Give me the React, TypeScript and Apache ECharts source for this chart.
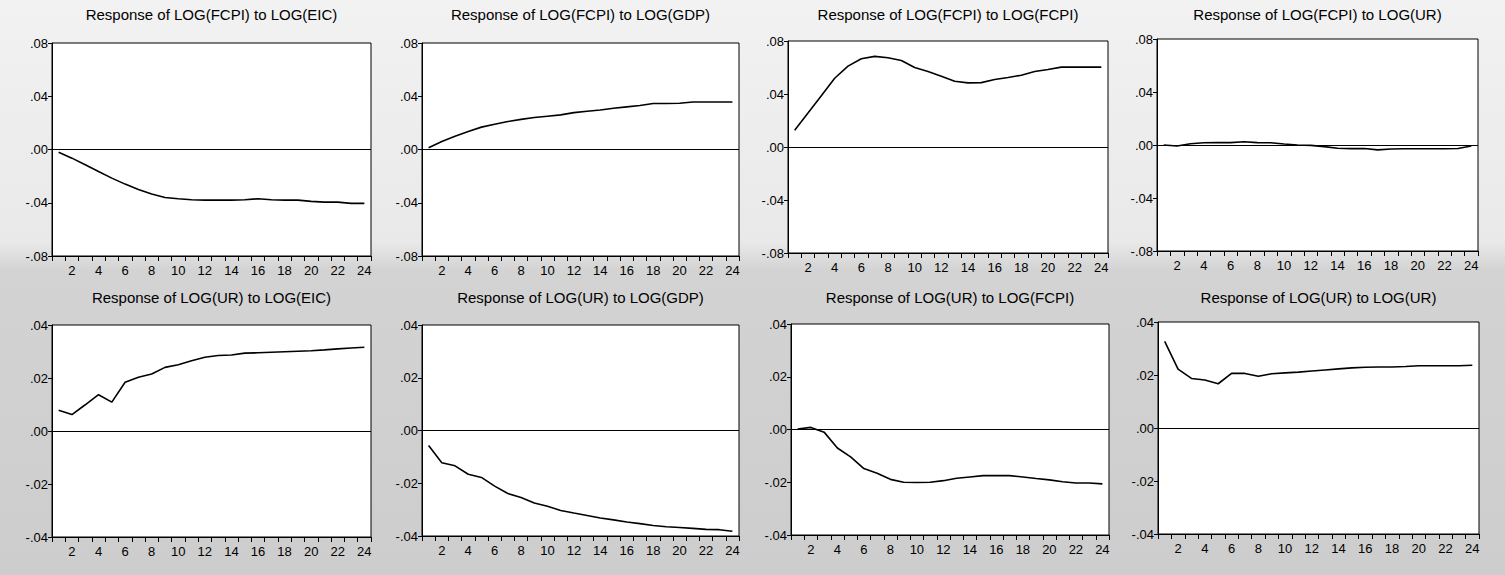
import React, { useEffect, useRef } from "react";
import * as echarts from "echarts";

const periods = ["1","2","3","4","5","6","7","8","9","10","11","12","13","14","15","16","17","18","19","20","21","22","23","24"];

const titles = [
  "Response of LOG(FCPI) to LOG(EIC)",
  "Response of LOG(FCPI) to LOG(GDP)",
  "Response of LOG(FCPI) to LOG(FCPI)",
  "Response of LOG(FCPI) to LOG(UR)",
  "Response of LOG(UR) to LOG(EIC)",
  "Response of LOG(UR) to LOG(GDP)",
  "Response of LOG(UR) to LOG(FCPI)",
  "Response of LOG(UR) to LOG(UR)",
];

const fcpiToEic = [-0.002, -0.0065, -0.0115, -0.0165, -0.0215, -0.026, -0.03, -0.0335, -0.036, -0.037, -0.0378, -0.038, -0.038, -0.038, -0.0378, -0.037, -0.0378, -0.038, -0.038, -0.039, -0.0395, -0.0395, -0.0405, -0.0405];
const fcpiToGdp = [0.0013, 0.006, 0.01, 0.0136, 0.0168, 0.019, 0.021, 0.0226, 0.024, 0.025, 0.026, 0.0277, 0.0287, 0.0297, 0.031, 0.032, 0.033, 0.0345, 0.0345, 0.0347, 0.0357, 0.0357, 0.0357, 0.0357];
const fcpiToFcpi = [0.0127, 0.0256, 0.0387, 0.0519, 0.061, 0.0666, 0.0684, 0.0673, 0.0653, 0.06, 0.057, 0.0534, 0.0496, 0.0484, 0.0486, 0.0509, 0.0524, 0.0542, 0.057, 0.0585, 0.0603, 0.0603, 0.0603, 0.0603];
const fcpiToUr = [0, -0.0008, 0.001, 0.0017, 0.0018, 0.0018, 0.0025, 0.0018, 0.0017, 0.0008, 0, -0.0003, -0.0012, -0.0025, -0.0027, -0.0027, -0.0037, -0.003, -0.0028, -0.0028, -0.0028, -0.0028, -0.0026, -0.0008];
const urToEic = [0.0078, 0.0062, 0.0099, 0.0137, 0.0109, 0.0184, 0.0203, 0.0215, 0.024, 0.025, 0.0265, 0.0278, 0.0285, 0.0287, 0.0294, 0.0295, 0.0297, 0.0299, 0.0301, 0.0303, 0.0306, 0.031, 0.0313, 0.0316];
const urToGdp = [-0.0057, -0.0122, -0.0134, -0.0166, -0.0178, -0.0211, -0.0239, -0.0254, -0.0275, -0.0287, -0.0303, -0.0313, -0.0322, -0.0332, -0.0339, -0.0347, -0.0353, -0.036, -0.0365, -0.0368, -0.0371, -0.0375, -0.0376, -0.0382];
const urToFcpi = [0.0002, 0.0008, -0.001, -0.007, -0.0104, -0.0148, -0.0166, -0.0189, -0.02, -0.0201, -0.02, -0.0194, -0.0185, -0.018, -0.0175, -0.0175, -0.0175, -0.018, -0.0186, -0.0191, -0.0198, -0.0203, -0.0203, -0.0206];
const urToUr = [0.0327, 0.0222, 0.0187, 0.0181, 0.0167, 0.0206, 0.0206, 0.0195, 0.0205, 0.0208, 0.0211, 0.0215, 0.0219, 0.0223, 0.0227, 0.0229, 0.023, 0.023, 0.0232, 0.0235, 0.0235, 0.0235, 0.0235, 0.0237];

const seriesData = [fcpiToEic, fcpiToGdp, fcpiToFcpi, fcpiToUr, urToEic, urToGdp, urToFcpi, urToUr];

// y-axis scales: [min, max, interval]
const topRowScale = [-0.08, 0.08, 0.04];
const bottomRowScale = [-0.04, 0.04, 0.02];

// layout (positions only)
const boxes = [
  { left: 52, top: 43, width: 319, height: 213 },
  { left: 422, top: 43, width: 317, height: 213 },
  { left: 788, top: 41, width: 320, height: 212 },
  { left: 1157, top: 39, width: 321, height: 212 },
  { left: 52, top: 325, width: 319, height: 212 },
  { left: 422, top: 325, width: 317, height: 211 },
  { left: 791, top: 324, width: 318, height: 211 },
  { left: 1158, top: 322, width: 321, height: 212 },
];

const FONT = "'Liberation Sans', Arial, Helvetica, sans-serif";

function fmt(v: number): string {
  const s = v.toFixed(2);
  return s.replace("0.", ".");
}

export default function App() {
  const ref = useRef<HTMLDivElement>(null);
  useEffect(() => {
    if (!ref.current) return;
    const chart = echarts.init(ref.current, null, { renderer: "svg" });
    const grids: any[] = [];
    const xAxes: any[] = [];
    const yAxes: any[] = [];
    const series: any[] = [];
    const titleArr: any[] = [];
    boxes.forEach((b, i) => {
      const scale = i < 4 ? topRowScale : bottomRowScale;
      grids.push({
        left: b.left,
        top: b.top,
        width: b.width,
        height: b.height,
        show: true,
        backgroundColor: "#ffffff",
        borderColor: "#000000",
        borderWidth: 1,
        containLabel: false,
        outerBoundsMode: "none",
      });
      titleArr.push({
        text: titles[i],
        left: b.left + b.width / 2,
        top: i < 4 ? 7 : 290,
        textAlign: "center",
        padding: 0,
        textStyle: { fontFamily: FONT, fontSize: 15, fontWeight: "normal", color: "#000000" },
      });
      xAxes.push({
        type: "category",
        gridIndex: i,
        data: periods,
        boundaryGap: true,
        axisLine: { show: true, onZero: false, lineStyle: { color: "#000", width: 1 } },
        axisTick: { show: true, interval: 0, length: 5, inside: false, lineStyle: { color: "#000", width: 1 } },
        axisLabel: {
          interval: (idx: number) => idx % 2 === 1,
          margin: 8,
          fontFamily: FONT,
          fontSize: 13,
          color: "#000000",
          hideOverlap: false,
        },
        splitLine: { show: false },
      });
      yAxes.push({
        type: "value",
        gridIndex: i,
        min: scale[0],
        max: scale[1],
        interval: scale[2],
        axisLine: { show: true, onZero: false, lineStyle: { color: "#000", width: 1 } },
        axisTick: { show: true, length: 4, inside: false, lineStyle: { color: "#000", width: 1 } },
        axisLabel: {
          formatter: (v: number) => fmt(v),
          margin: 4,
          fontFamily: FONT,
          fontSize: 13,
          color: "#000000",
        },
        splitLine: { show: false },
      });
      series.push({
        type: "line",
        xAxisIndex: i,
        yAxisIndex: i,
        data: seriesData[i],
        symbol: "none",
        smooth: false,
        lineStyle: { color: "#000000", width: 1.6 },
        markLine: {
          silent: true,
          symbol: "none",
          label: { show: false },
          lineStyle: { color: "#000000", width: 1.2, type: "solid" },
          data: [{ yAxis: 0 }],
        },
      });
    });
    chart.setOption({
      animation: false,
      backgroundColor: "transparent",
      title: titleArr,
      grid: grids,
      xAxis: xAxes,
      yAxis: yAxes,
      series,
    });
    return () => chart.dispose();
  }, []);
  return (
    <div
      ref={ref}
      style={{
        position: "fixed",
        left: 0,
        top: 0,
        width: 1505,
        height: 575,
        background:
          "linear-gradient(to bottom, #f2f2f2 0%, #e9e9e9 42%, #d3d3d3 47%, #cdcdcd 100%)",
      }}
    />
  );
}
